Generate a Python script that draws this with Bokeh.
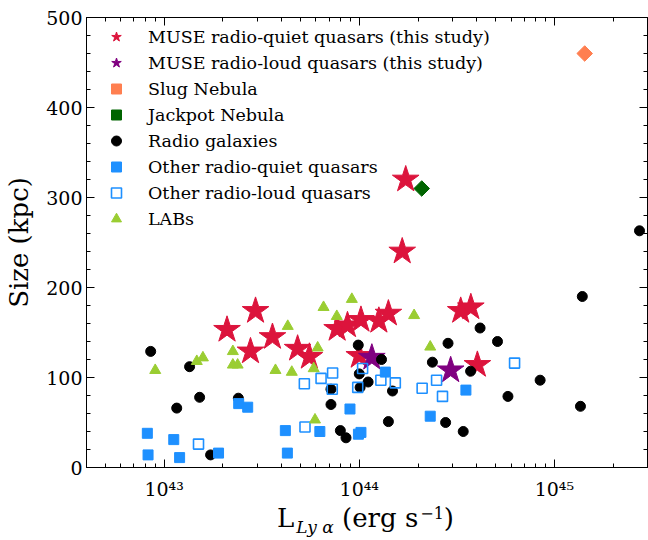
import numpy as np
from bokeh.plotting import figure
from bokeh.models import FixedTicker, LogAxis, LinearAxis, Range1d, Div
from bokeh.layouts import column
from bokeh.embed import file_html
from bokeh.resources import INLINE

# ---------------- data ----------------
muse_rq_L = [2.10e43, 2.94e43, 2.77e43, 3.59e43, 4.83e43, 5.55e43, 7.7e43, 8.7e43,
             1.02e44, 1.26e44, 1.41e44, 1.00e44, 1.73e44, 1.66e44, 3.31e44, 3.73e44, 4.03e44]
muse_rq_size = [153, 174, 129, 145, 132, 123, 154, 158,
                164, 163, 171, 124, 320, 240, 174, 178, 114]

muse_rl_L = [1.16e44, 2.94e44]
muse_rl_size = [122, 108]

slug_L = [1.43e45]
slug_size = [460]

jackpot_L = [2.09e44]
jackpot_size = [310]

rg_L = [8.53e42, 1.35e43, 1.16e43, 1.52e43, 2.40e43, 1.73e43, 9.88e43, 1.30e44, 1.00e44,
        1.11e44, 1.01e44, 7.16e43, 7.16e43, 1.48e44, 8.0e43, 8.55e43, 1.41e44, 2.85e44,
        2.37e44, 3.72e44, 2.77e44, 3.41e44, 4.16e44, 5.11e44, 8.45e44, 5.78e44, 1.36e45,
        1.39e45, 2.73e45]
rg_size = [129, 112, 66, 78, 77, 14, 136, 120, 104,
           95, 89, 87, 70, 85, 41, 33, 51, 138,
           117, 107, 50, 40, 155, 140, 97, 79, 68,
           190, 263]

rq_L = [8.2e42, 8.27e42, 1.12e43, 1.20e43, 1.90e43, 2.41e43, 2.68e43, 4.18e43, 4.28e43,
        6.28e43, 8.96e43, 1.02e44, 9.9e43, 1.36e44, 2.31e44, 3.52e44]
rq_size = [38, 14, 31, 11, 16, 71, 67, 41, 16,
           40, 65, 39, 37, 106, 57, 86]

rl_L = [1.50e43, 5.23e43, 5.27e43, 6.37e43, 7.3e43, 7.27e43, 9.82e43, 1.04e44, 1.29e44,
        1.53e44, 2.10e44, 2.49e44, 2.67e44, 6.25e44]
rl_size = [26, 93, 45, 99, 105, 87, 89, 110, 97,
           94, 88, 97, 79, 116]

lab_L = [9.0e42, 1.47e43, 1.58e43, 2.25e43, 2.25e43, 2.38e43, 3.72e43, 4.30e43, 4.51e43,
         5.84e43, 6.12e43, 5.93e43, 6.56e43, 7.67e43, 9.16e43, 1.91e44, 2.31e44]
lab_size = [108, 118, 122, 129, 114, 114, 108, 157, 106,
            110, 133, 53, 178, 168, 187, 169, 134]

x_major = [1e43, 1e44, 1e45]
x_major_labels = {1e43: "10⁴³", 1e44: "10⁴⁴", 1e45: "10⁴⁵"}
y_major = [0, 100, 200, 300, 400, 500]
x_lim = (4e42, 3e45)
y_lim = (0, 500)

FONT = "DejaVu Serif"

x_minor = [m * 10.0 ** d for d in range(42, 46) for m in range(1, 10)
           if x_lim[0] <= m * 10.0 ** d <= x_lim[1]]
y_minor = list(range(0, 501, 20))

p = figure(width=648, height=502, x_axis_type="log",
           x_range=Range1d(*x_lim), y_range=Range1d(*y_lim),
           output_backend="svg", toolbar_location=None,
           min_border_left=86, min_border_right=1, min_border_top=17, min_border_bottom=35)
p.grid.visible = False
p.outline_line_color = "black"
p.outline_line_width = 1
p.background_fill_color = "white"
p.border_fill_color = "white"

# scatter layers in legend order (later on top)
p.scatter(muse_rq_L, muse_rq_size, marker="star", size=28, fill_color="#DC143C",
          line_color="#DC143C", legend_label="MUSE radio-quiet quasars (this study)")
p.scatter(muse_rl_L, muse_rl_size, marker="star", size=28, fill_color="#800080",
          line_color="#800080", legend_label="MUSE radio-loud quasars (this study)")
p.scatter(slug_L, slug_size, marker="square", angle=np.pi / 4, size=11,
          fill_color="#FF7F50", line_color="#FF7F50", legend_label="Slug Nebula")
p.scatter(jackpot_L, jackpot_size, marker="square", angle=np.pi / 4, size=11,
          fill_color="#006400", line_color="#006400", legend_label="Jackpot Nebula")
p.scatter(rg_L, rg_size, marker="circle", size=10, fill_color="black",
          line_color="black", legend_label="Radio galaxies")
p.scatter(rq_L, rq_size, marker="square", size=10, fill_color="#1E90FF",
          line_color="#1E90FF", legend_label="Other radio-quiet quasars")
p.scatter(rl_L, rl_size, marker="square", size=10, fill_color=None,
          line_color="#1E90FF", line_width=1.6, legend_label="Other radio-loud quasars")
p.scatter(lab_L, lab_size, marker="triangle", size=11, fill_color="#9ACD32",
          line_color="#9ACD32", legend_label="LABs")


def style_axis(ax, labels=True):
    ax.major_tick_in = 8
    ax.major_tick_out = 0
    ax.minor_tick_in = 4
    ax.minor_tick_out = 0
    ax.major_tick_line_color = "black"
    ax.minor_tick_line_color = "black"
    ax.axis_line_color = "black"
    if labels:
        ax.major_label_text_font = FONT
        ax.major_label_text_font_size = "19px"
        ax.major_label_text_color = "black"
        ax.major_label_standoff = 4
    else:
        ax.major_label_text_font_size = "0px"
        ax.major_label_standoff = 0
        ax.axis_line_color = None


xa = p.xaxis[0]
xa.ticker = FixedTicker(ticks=x_major, minor_ticks=x_minor)
xa.major_label_overrides = x_major_labels
style_axis(xa)
xa.major_label_standoff = 10

ya = p.yaxis[0]
ya.ticker = FixedTicker(ticks=y_major, minor_ticks=y_minor)
style_axis(ya)
ya.axis_label = "Size (kpc)"
ya.axis_label_text_font = FONT
ya.axis_label_text_font_size = "26px"
ya.axis_label_text_font_style = "normal"
ya.axis_label_text_color = "black"
ya.axis_label_standoff = 9

top = LogAxis(ticker=FixedTicker(ticks=x_major, minor_ticks=x_minor))
style_axis(top, labels=False)
top.major_label_overrides = {v: "" for v in x_major}
p.add_layout(top, "above")

right = LinearAxis(ticker=FixedTicker(ticks=y_major, minor_ticks=y_minor))
style_axis(right, labels=False)
right.major_label_overrides = {v: "" for v in y_major}
p.add_layout(right, "right")

lg = p.legend[0]
lg.location = "top_left"
lg.margin = 7
lg.padding = 7
lg.glyph_width = 46
lg.glyph_height = 25
lg.label_height = 20
lg.spacing = 1
lg.label_standoff = 9
lg.label_text_font = FONT
lg.label_text_font_size = "17.5px"
lg.label_text_color = "black"
lg.border_line_color = None
lg.background_fill_alpha = 0

# x-axis title: L with italic subscript "Ly α"
xlabel_html = (
    '<div style="font-family:\'DejaVu Serif\';font-size:26px;line-height:30px;'
    'color:black;width:561px;margin-left:80px;margin-top:-4px;text-align:center;'
    'white-space:nowrap;">'
    'L<span style="position:relative;top:6px;font-size:17px;font-style:italic;'
    'margin-left:2px;">Ly α</span> (erg s<span style="position:relative;top:-8px;'
    'font-size:16px;margin-left:2px;">−1</span>)</div>'
)
xlabel = Div(text=xlabel_html, width=648, height=36)

layout = column(p, xlabel, spacing=0)

open("out.html", "w").write(file_html(layout, INLINE))
